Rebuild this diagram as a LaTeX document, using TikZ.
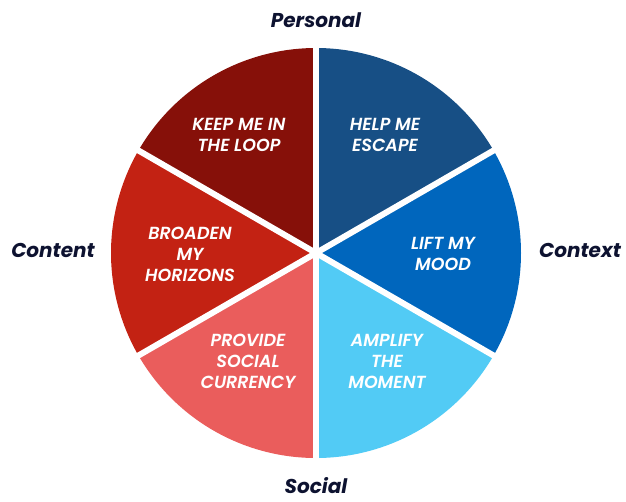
\documentclass[tikz,border=0pt]{standalone}
\usepackage{fontspec}
\setmainfont{Poppins}[UprightFont=* SemiBold, ItalicFont=* SemiBold Italic, BoldFont=* Bold, BoldItalicFont=* Bold Italic]
\definecolor{cloop}{HTML}{861009}
\definecolor{cescape}{HTML}{174F85}
\definecolor{cmood}{HTML}{0066BD}
\definecolor{camp}{HTML}{52CBF5}
\definecolor{csocial}{HTML}{EA5D5C}
\definecolor{cbroad}{HTML}{C32213}
\definecolor{navy}{HTML}{0D1230}
\tikzset{
  seg/.style={white, font=\itshape\fontsize{17.5}{21}\selectfont, align=center},
  axis/.style={navy, font=\bfseries\itshape\fontsize{20}{24}\selectfont},
  gap/.style={white, line width=6pt}
}
\begin{document}
\begin{tikzpicture}[x=1pt,y=-1pt]
\useasboundingbox (0,0) rectangle (626,501);
\coordinate (c) at (316,253);
\def\R{205}
\fill[cescape] (c) -- ++(-90:\R) arc[start angle=-90, end angle=-30, radius=\R] -- cycle;
\fill[cmood] (c) -- ++(-30:\R) arc[start angle=-30, end angle=30, radius=\R] -- cycle;
\fill[camp] (c) -- ++(30:\R) arc[start angle=30, end angle=90, radius=\R] -- cycle;
\fill[csocial] (c) -- ++(90:\R) arc[start angle=90, end angle=150, radius=\R] -- cycle;
\fill[cbroad] (c) -- ++(150:\R) arc[start angle=150, end angle=210, radius=\R] -- cycle;
\fill[cloop] (c) -- ++(210:\R) arc[start angle=210, end angle=270, radius=\R] -- cycle;
\foreach \a in {-90,-30,30,90,150,210}
  \draw[gap] (c) -- ++(\a:\R+3);
\node[seg] (loop) at (239,135) {KEEP ME IN\\THE LOOP};
\node[seg] (escape) at (385,135) {HELP ME\\ESCAPE};
\node[seg] (broad) at (190,254) {BROADEN\\MY\\HORIZONS};
\node[seg] (mood) at (443,254) {LIFT MY\\MOOD};
\node[seg] (social) at (248,361) {PROVIDE\\SOCIAL\\CURRENCY};
\node[seg] (amp) at (387,361) {AMPLIFY\\THE\\MOMENT};
\node[axis] (personal) at (316,20) {Personal};
\node[axis] (content) at (53,250) {Content};
\node[axis] (context) at (580,250) {Context};
\node[axis] (soc) at (316,486) {Social};
\end{tikzpicture}
\end{document}
